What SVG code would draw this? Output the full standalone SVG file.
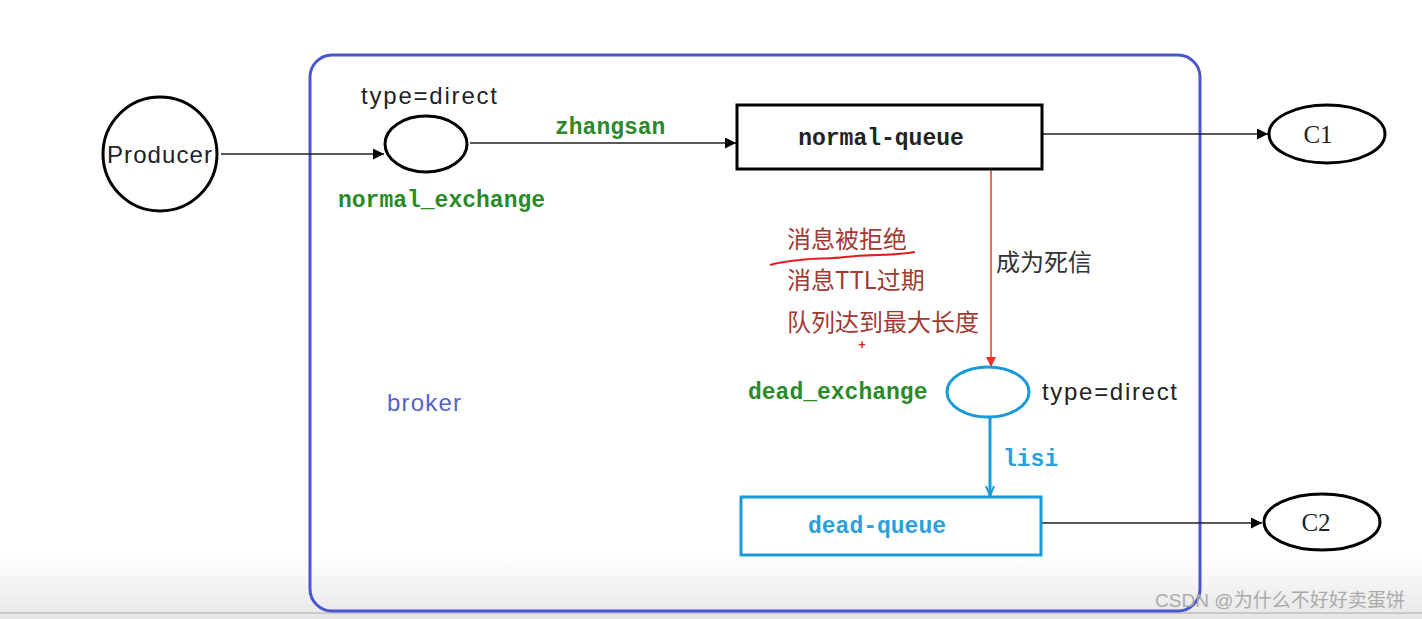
<svg xmlns="http://www.w3.org/2000/svg" width="1422" height="619" viewBox="0 0 1422 619">
<style>
.sans{font-family:"Liberation Sans","Noto Sans CJK SC",sans-serif}
.mono{font-family:"Liberation Mono",monospace;font-weight:bold;font-size:23px}
.green{fill:#2a8a2a}
.blk{fill:none;stroke:#000;stroke-width:3}
.line{fill:none;stroke:#222;stroke-width:1.5}
.cn{font-family:"Noto Sans CJK SC",sans-serif;font-size:24px}
.red{fill:#a23a32}
</style>
<defs>
<linearGradient id="bg" x1="0" y1="0" x2="0" y2="1">
<stop offset="0" stop-color="#ffffff"/>
<stop offset="1" stop-color="#e6e6e6"/>
</linearGradient>
<marker id="ab" viewBox="0 0 10 10" refX="10" refY="5" markerWidth="11" markerHeight="11" markerUnits="userSpaceOnUse" orient="auto"><path d="M0,0L10,5L0,10z" fill="#000"/></marker>
<marker id="ar" viewBox="0 0 10 10" refX="10" refY="5" markerWidth="10" markerHeight="10" markerUnits="userSpaceOnUse" orient="auto"><path d="M0,0L10,5L0,10z" fill="#f03020"/></marker>
<marker id="abl" viewBox="0 0 10 10" refX="10" refY="5" markerWidth="10" markerHeight="10" markerUnits="userSpaceOnUse" orient="auto"><path d="M0,1L10,5L0,9" fill="none" stroke="#1a9ad9" stroke-width="2"/></marker>
</defs>
<rect width="1422" height="619" fill="#fff"/>
<rect x="0" y="555" width="1422" height="64" fill="url(#bg)"/>
<line x1="0" y1="613" x2="1422" y2="613" stroke="#c8c8c8" stroke-width="2"/>

<g id="broker">
<rect x="310" y="55" width="890" height="556" rx="22" fill="none" stroke="#4a55d0" stroke-width="3"/>
<text x="387" y="411" class="sans" font-size="24" textLength="74" fill="#5563c8">broker</text>
</g>

<g id="connectors">
<line x1="221" y1="154" x2="384" y2="154" class="line" marker-end="url(#ab)"/>
<line x1="470" y1="143" x2="736" y2="143" class="line" marker-end="url(#ab)"/>
<line x1="1043" y1="134" x2="1268" y2="134" class="line" marker-end="url(#ab)"/>
<line x1="991" y1="170" x2="991" y2="367" fill="none" stroke="#f03020" stroke-width="1.5" marker-end="url(#ar)"/>
<line x1="990" y1="418" x2="990" y2="496" fill="none" stroke="#1a9ad9" stroke-width="3" marker-end="url(#abl)"/>
<line x1="1042" y1="523" x2="1262" y2="523" class="line" marker-end="url(#ab)"/>
<text x="555" y="134" class="mono green">zhangsan</text>
<text x="996" y="271" class="cn" fill="#333">成为死信</text>
<text x="1003" y="466" class="mono" fill="#2aa0dc">lisi</text>
</g>

<g id="producer">
<circle cx="160" cy="154" r="57" fill="#fff" stroke="#000" stroke-width="3"/>
<text x="107" y="163" class="sans" font-size="24" textLength="105" fill="#222">Producer</text>
</g>

<g id="normal_exchange">
<ellipse cx="426" cy="144" rx="41" ry="28" fill="#fff" stroke="#000" stroke-width="3"/>
<text x="361" y="104" class="sans" font-size="24" textLength="136" fill="#222">type=direct</text>
<text x="338" y="207" class="mono green">normal_exchange</text>
</g>

<g id="normal_queue">
<rect x="737" y="105" width="305" height="64" fill="#fff" class="blk"/>
<text x="881" y="145" class="mono" fill="#222" text-anchor="middle">normal-queue</text>
</g>

<g id="c1">
<ellipse cx="1327" cy="134" rx="58" ry="29" fill="#fff" stroke="#000" stroke-width="3"/>
<text x="1318" y="143" font-family="Liberation Serif,serif" font-size="25" text-anchor="middle" fill="#222">C1</text>
</g>

<g id="reasons">
<text x="787" y="248" class="cn red">消息被拒绝</text>
<path d="M770,265 C780,262 790,261 800,260 C815,258 830,259 845,257 C870,254 895,256 915,252" fill="none" stroke="#e02020" stroke-width="2"/>
<text x="787" y="289" class="cn red">消息TTL过期</text>
<text x="787" y="331" class="cn red">队列达到最大长度</text>
<text x="862" y="349" font-family="Liberation Sans,sans-serif" font-size="13" font-weight="bold" fill="#e02020" text-anchor="middle">+</text>
</g>

<g id="dead_exchange">
<ellipse cx="988" cy="392" rx="41" ry="25" fill="#fff" stroke="#1a9ad9" stroke-width="3"/>
<text x="748" y="399" class="mono green">dead_exchange</text>
<text x="1042" y="400" class="sans" font-size="24" textLength="135" fill="#222">type=direct</text>
</g>

<g id="dead_queue">
<rect x="741" y="497" width="300" height="58" fill="#fff" stroke="#1a9ad9" stroke-width="3"/>
<text x="877" y="533" class="mono" fill="#2aa0dc" text-anchor="middle">dead-queue</text>
</g>

<g id="c2">
<ellipse cx="1322" cy="522" rx="58" ry="28" fill="#fff" stroke="#000" stroke-width="3"/>
<text x="1316" y="531" font-family="Liberation Serif,serif" font-size="25" text-anchor="middle" fill="#222">C2</text>
</g>

<text x="1155" y="607" class="sans" font-size="19" textLength="250" fill="#aaaaaa">CSDN @为什么不好好卖蛋饼</text>
</svg>
